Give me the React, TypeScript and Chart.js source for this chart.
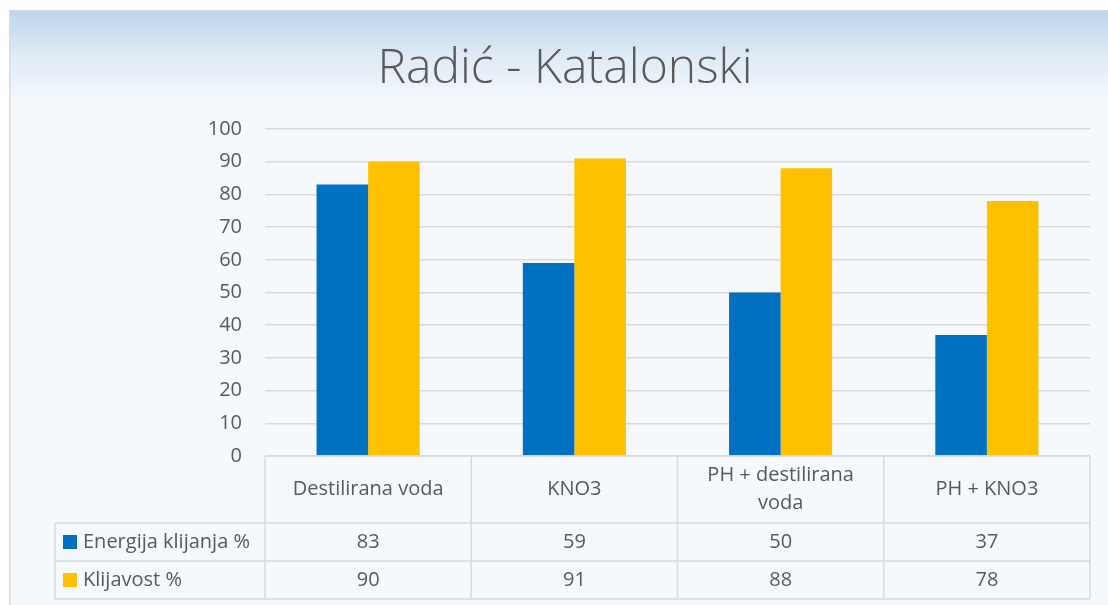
import React, { useEffect, useRef } from 'react';
import { Chart, registerables } from 'chart.js';

Chart.register(...registerables);

const titleText = 'Radić - Katalonski';
const categories: (string | string[])[] = ['Destilirana voda', 'KNO3', ['PH + destilirana', 'voda'], 'PH + KNO3'];
const seriesNames = ['Energija klijanja %', 'Klijavost %'];
const energijaKlijanja = [83, 59, 50, 37];
const klijavost = [90, 91, 88, 78];
const yMin = 0;
const yMax = 100;
const yStep = 10;

const BLUE = '#0070C0';
const GOLD = '#FFC000';
const GRID = '#d9d9d9';
const TEXT = '#595959';
const FONT = '"Open Sans", "Noto Sans", sans-serif';

const backgroundPlugin = {
  id: 'bgPanel',
  beforeDraw(chart: any) {
    const ctx = chart.ctx;
    const { width, height } = chart;
    ctx.save();
    ctx.fillStyle = '#ffffff';
    ctx.fillRect(0, 0, width, height);
    const g = ctx.createLinearGradient(0, 11, 0, 105);
    g.addColorStop(0, '#bcd5ec');
    g.addColorStop(0.5, '#e0ebf6');
    g.addColorStop(1, '#f5f9fd');
    ctx.fillStyle = g;
    ctx.fillRect(10, 11, width - 10, height - 11);
    ctx.strokeStyle = GRID;
    ctx.lineWidth = 1.5;
    ctx.strokeRect(9.75, 10.75, width + 20, height + 20);

    ctx.fillStyle = TEXT;
    ctx.font = `300 48px ${FONT}`;
    ctx.textAlign = 'center';
    ctx.textBaseline = 'alphabetic';
    ctx.fillText(titleText, 565, 83);
    ctx.restore();
  },
};

const tablePlugin = {
  id: 'dataTable',
  afterDraw(chart: any) {
    const ctx = chart.ctx;
    const area = chart.chartArea;
    const xs = chart.scales.x;
    const n = categories.length;
    const catW = (area.right - area.left) / n;
    const top = area.bottom;
    const hdrBottom = top + 67;
    const row1Bottom = hdrBottom + 38;
    const row2Bottom = row1Bottom + 38;
    const legendLeft = 55;

    ctx.save();
    ctx.strokeStyle = GRID;
    ctx.lineWidth = 1.5;
    ctx.beginPath();
    ctx.moveTo(area.left, top);
    ctx.lineTo(area.right, top);
    [hdrBottom, row1Bottom, row2Bottom].forEach((y) => {
      ctx.moveTo(legendLeft, y);
      ctx.lineTo(area.right, y);
    });
    ctx.moveTo(legendLeft, hdrBottom);
    ctx.lineTo(legendLeft, row2Bottom);
    for (let i = 0; i <= n; i++) {
      const x = area.left + i * catW;
      ctx.moveTo(x, top);
      ctx.lineTo(x, row2Bottom);
    }
    ctx.stroke();

    ctx.fillStyle = TEXT;
    ctx.font = `20px ${FONT}`;
    ctx.textAlign = 'center';
    ctx.textBaseline = 'middle';
    const hdrMid = (top + hdrBottom) / 2;
    categories.forEach((lab, i) => {
      const cx = xs.getPixelForValue(i);
      const lines = Array.isArray(lab) ? lab : [lab];
      const lh = 28;
      lines.forEach((ln, j) => {
        const y = hdrMid + (j - (lines.length - 1) / 2) * lh;
        ctx.fillText(ln, cx, y);
      });
    });
    const rows = [
      { y: (hdrBottom + row1Bottom) / 2, vals: energijaKlijanja, color: BLUE, name: seriesNames[0] },
      { y: (row1Bottom + row2Bottom) / 2, vals: klijavost, color: GOLD, name: seriesNames[1] },
    ];
    rows.forEach((r) => {
      ctx.fillStyle = TEXT;
      ctx.textAlign = 'center';
      r.vals.forEach((v, i) => {
        ctx.fillText(String(v), xs.getPixelForValue(i), r.y);
      });
      ctx.fillStyle = r.color;
      ctx.fillRect(63, r.y - 7, 14, 14);
      ctx.fillStyle = TEXT;
      ctx.textAlign = 'left';
      ctx.fillText(r.name, 83, r.y);
    });
    ctx.restore();
  },
};

export default function App() {
  const ref = useRef<HTMLCanvasElement | null>(null);
  useEffect(() => {
    if (!ref.current) return;
    const chart = new Chart(ref.current, {
      type: 'bar',
      data: {
        labels: categories as any,
        datasets: [
          { label: seriesNames[0], data: energijaKlijanja, backgroundColor: BLUE, borderWidth: 0 },
          { label: seriesNames[1], data: klijavost, backgroundColor: GOLD, borderWidth: 0 },
        ],
      },
      options: {
        responsive: false,
        devicePixelRatio: 1,
        animation: false,
        events: [],
        layout: { padding: { left: 0, right: 18, top: 129, bottom: 149 } },
        datasets: { bar: { categoryPercentage: 0.5, barPercentage: 1 } },
        plugins: {
          legend: { display: false },
          tooltip: { enabled: false },
          title: { display: false },
        },
        scales: {
          x: {
            ticks: { display: false },
            grid: { display: false },
            border: { display: false },
            afterFit: (s: any) => { s.height = 0; },
          },
          y: {
            min: yMin,
            max: yMax,
            ticks: { stepSize: yStep, color: TEXT, font: { family: FONT, size: 20 }, padding: 23 },
            grid: { color: GRID, lineWidth: 1.5, drawTicks: false },
            border: { display: false },
            afterFit: (s: any) => { s.width = 265; },
          },
        },
      },
      plugins: [backgroundPlugin, tablePlugin],
    });
    return () => chart.destroy();
  }, []);
  return (
    <div style={{ position: 'absolute', left: 0, top: 0, width: 1108, height: 605 }}>
      <canvas ref={ref} width={1108} height={605} style={{ display: 'block' }} />
    </div>
  );
}
